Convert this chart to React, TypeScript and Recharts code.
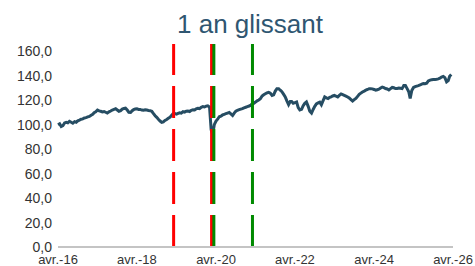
import React from "react";
import { LineChart, Line, XAxis, YAxis, ReferenceLine } from "recharts";

// Half-monthly observations from April 2016 (1st and 16th of each month)
const startYear = 2016;
const startMonth = 3; // April (0-based)
const values: number[] = [
  100, 100.8, 98.5, 99.2, 101.5, 102, 101.5, 102.8, 102, 101.2, 102.5, 102,
  103.2, 103.8, 104.5, 104.8, 105.5, 105.8, 106.4, 106.8, 107.8, 108.5, 109.8, 110.5,
  112, 111.3, 111, 110.5, 110.8, 110.2, 109.5, 110.5, 111.2, 112, 112.5, 113,
  112, 111, 111.5, 112.8, 113.2, 113.5, 112, 110.2, 110, 111.5, 112.3, 112.8,
  113, 112.5, 112.5, 112, 111.8, 112.2, 112, 111.6, 111.5, 111, 109, 107.3,
  106, 104.5, 103, 102, 102.3, 103.5, 104.3, 105.2, 106.2, 107.8, 109, 109.2,
  108.6, 109.3, 109.8, 109.5, 110.7, 110.3, 111, 111.2, 110.8, 111.8, 112.2, 112,
  113, 113.5, 113.2, 114.3, 114.8, 114.5, 115.2, 115.5, 114.5, 96, 92, 100,
  103, 104.5, 106.5, 107, 108, 108.5, 109, 109.5, 110, 108.8, 107.5, 109.5,
  111, 111.8, 112.3, 112.8, 113.2, 113.8, 114.3, 114.8, 115.3, 116, 117, 117.5,
  118.5, 119.5, 120.2, 121.2, 123.5, 124.5, 125.3, 126, 126.5, 125.8, 124, 124.5,
  127.5, 129.5, 129.5, 128.2, 127, 125, 122.8, 119.5, 116.5, 119, 119, 117.5,
  118, 118.5, 114, 112, 112.5, 115.5, 117.5, 118.6, 115, 111, 109.5, 112.5,
  115, 117, 117.8, 118.4, 116.3, 119.5, 122.7, 122, 121.4, 122.4, 122.8, 123.5,
  124, 123.3, 122.7, 124, 125.2, 124.6, 124, 123.4, 122.7, 121.8, 120.6, 119.4,
  120.5, 121.5, 123.2, 124.8, 125.8, 126.8, 127.5, 128.2, 128.8, 129.4, 129.5, 129.3,
  128.8, 128.2, 128.6, 129, 130, 130.8, 130.3, 129.6, 129.2, 128.4, 129.5, 130.5,
  130.2, 129.6, 129.7, 130, 129.8, 129.5, 132, 132, 129.5, 127, 121.5, 128,
  130.5, 131.2, 131.6, 132, 132.5, 133.2, 133.6, 133.5, 134, 135.8, 136.5, 136.7,
  136.9, 137, 137.2, 137.5, 138, 139, 139.5, 138.5, 135, 136, 139.6, 141,
];

const tickYears = [2016, 2018, 2020, 2022, 2024, 2026];
const yTicks = [0, 20, 40, 60, 80, 100, 120, 140, 160];
const redEvents = ["2019-03-06", "2020-02-20"];
const greenEvents = ["2020-03-12", "2021-03-04"];
const title = "1 an glissant";

const data = values.map((v, i) => ({
  t: Date.UTC(startYear, startMonth + Math.floor(i / 2), i % 2 ? 16 : 1),
  v,
}));

const xTicks = tickYears.map((y) => Date.UTC(y, 3, 1));
const toTs = (s: string) => Date.parse(s + "T00:00:00Z");

const fmtX = (t: number) => {
  const d = new Date(t);
  return "avr.-" + String(d.getUTCFullYear()).slice(2);
};
const fmtY = (v: number) => v.toFixed(1).replace(".", ",");

const font = "'Liberation Sans', Arial, sans-serif";

export default function App() {
  return (
    <div
      style={{
        position: "fixed",
        left: 0,
        top: 0,
        width: 475,
        height: 266,
        background: "#fff",
        fontFamily: font,
        overflow: "hidden",
      }}
    >
      <div
        style={{
          position: "absolute",
          left: 0,
          top: 11,
          width: 500,
          textAlign: "center",
          fontSize: 26,
          lineHeight: "26px",
          color: "#2f5671",
          fontFamily: font,
        }}
      >
        {title}
      </div>
      <LineChart
        width={475}
        height={266}
        data={data}
        margin={{ top: 44, right: 22, bottom: 0, left: 0 }}
      >
        <XAxis
          dataKey="t"
          type="number"
          scale="time"
          domain={[xTicks[0], xTicks[xTicks.length - 1]]}
          ticks={xTicks}
          tickFormatter={fmtX}
          height={19}
          axisLine={{ stroke: "#c4c4c4", strokeWidth: 2 }}
          tickLine={false}
          tickSize={6}
          tickMargin={2}
          interval={0}
          tick={{ fill: "#333", fontSize: 13, fontFamily: font }}
        />
        <YAxis
          type="number"
          domain={[0, 166]}
          ticks={yTicks}
          tickFormatter={fmtY}
          width={58}
          axisLine={false}
          tickLine={false}
          tickSize={6}
          tickMargin={0}
          interval={0}
          tick={{ fill: "#333", fontSize: 14, fontFamily: font }}
        />
        <Line
          dataKey="v"
          stroke="#264d63"
          strokeWidth={3}
          dot={false}
          isAnimationActive={false}
          strokeLinejoin="miter"
        />
        {redEvents.map((d) => (
          <ReferenceLine
            key={d}
            segment={[
              { x: toTs(d), y: 0 },
              { x: toTs(d), y: 166 },
            ]}
            stroke="#ff0000"
            strokeWidth={3}
            strokeDasharray="32 11"
          />
        ))}
        {greenEvents.map((d) => (
          <ReferenceLine
            key={d}
            segment={[
              { x: toTs(d), y: 0 },
              { x: toTs(d), y: 166 },
            ]}
            stroke="#008a00"
            strokeWidth={3}
            strokeDasharray="32 11"
          />
        ))}
      </LineChart>
    </div>
  );
}
